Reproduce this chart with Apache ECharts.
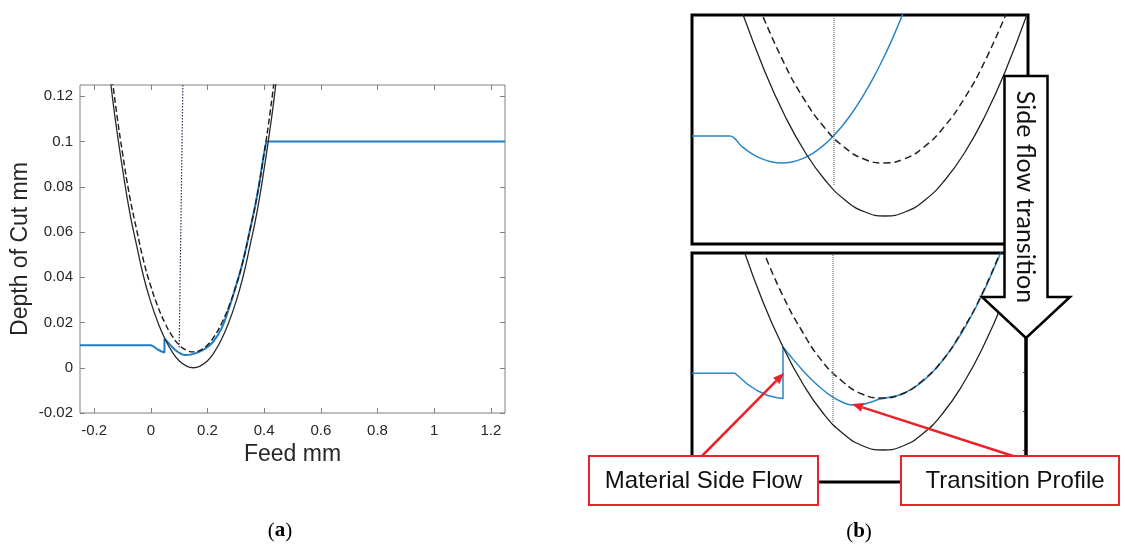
<!DOCTYPE html>
<html>
<head>
<meta charset="utf-8">
<script src="https://cdn.jsdelivr.net/npm/echarts@6/dist/echarts.min.js"></script>
<style>
html, body { margin: 0; padding: 0; background: #fff; }
#chart { width: 1125px; height: 545px; }
</style>
</head>
<body>
<div id="chart"></div>
<script>
// (a) feed / depth of cut, mm
var xTicks = [-0.2, 0, 0.2, 0.4, 0.6, 0.8, 1, 1.2]
var yTicks = [-0.02, 0, 0.02, 0.04, 0.06, 0.08, 0.1, 0.12]

// current tool profile (solid)
var toolX = [-0.145, -0.135, -0.12, -0.1, -0.075, -0.05, -0.025, 0, 0.025, 0.05, 0.075, 0.1, 0.125, 0.15, 0.175, 0.2, 0.225, 0.25, 0.275, 0.3, 0.325, 0.35, 0.375, 0.4, 0.42, 0.435, 0.445]
var toolY = [0.130, 0.119, 0.105, 0.088, 0.069, 0.054, 0.040, 0.029, 0.020, 0.0127, 0.0071, 0.0031, 0.0008, 0, 0.0008, 0.0031, 0.0071, 0.0127, 0.020, 0.029, 0.040, 0.054, 0.069, 0.088, 0.105, 0.119, 0.130]
// previous tool profile (dashed)
var prevX = [-0.14, -0.12, -0.1, -0.075, -0.05, -0.025, 0, 0.025, 0.05, 0.075, 0.1, 0.125, 0.15, 0.175, 0.2, 0.225, 0.25, 0.275, 0.3, 0.325, 0.35, 0.375, 0.4, 0.42, 0.44]
var prevY = [0.1315, 0.112, 0.095, 0.076, 0.061, 0.047, 0.036, 0.027, 0.0197, 0.0141, 0.0101, 0.0078, 0.007, 0.0078, 0.0101, 0.0141, 0.0197, 0.027, 0.036, 0.047, 0.061, 0.076, 0.095, 0.112, 0.1315]
// dotted marker
var markX = [0.1, 0.113]
var markY = [0.009, 0.125]
// surface (blue)
var sideX = [-0.25, 0, 0.012, 0.024, 0.036, 0.048, 0.048]
var sideY = [0.01, 0.01, 0.0092, 0.0081, 0.0073, 0.0067, 0.0128]
var profX = [0.048, 0.062, 0.075, 0.092, 0.105, 0.121, 0.14, 0.162, 0.19, 0.22, 0.25, 0.275, 0.3, 0.325, 0.35, 0.375, 0.4, 0.408]
var profY = [0.0128, 0.011, 0.0092, 0.0073, 0.0063, 0.0056, 0.0058, 0.0066, 0.0083, 0.0115, 0.0175, 0.026, 0.036, 0.047, 0.061, 0.076, 0.095, 0.1]
var flatX = [0.408, 1.25]
var flatY = [0.1, 0.1]

// (b) zoomed sketches, box-local units
var topToolX = [48, 73, 93, 113, 133, 153, 173, 193, 213, 233, 253, 273, 293, 313, 338]
var topToolY = [238, 172, 128, 92, 64, 44, 32, 28, 32, 44, 64, 92, 128, 172, 238]
var topPrevX = [67, 92, 112, 132, 152, 172, 192, 212, 232, 252, 272, 292, 317]
var topPrevY = [237, 181, 145, 117, 97, 85, 81, 85, 97, 117, 145, 181, 237]
var topSurfX = [0, 38, 50, 60, 70, 80, 90, 100, 110, 120, 130, 140, 150, 160, 170, 180, 190, 200, 212]
var topSurfY = [108, 108, 97.3, 90.2, 85.1, 82, 81, 82, 85.1, 90.2, 97.3, 106.5, 117.7, 131, 146.3, 163.6, 183, 204.4, 232.8]
var topMarkX = [142, 142]
var topMarkY = [59, 227]

var botToolX = [49, 71, 91, 111, 131, 151, 171, 191, 211, 231, 251, 271, 291, 311, 333]
var botToolY = [240, 180, 135, 98, 69, 48.5, 36, 32, 36, 48.5, 69, 98, 135, 180, 240]
var botPrevX = [70, 90, 110, 130, 150, 170, 190, 210, 230, 250, 270, 290, 310]
var botPrevY = [234, 188, 151, 121, 101, 88, 84, 88, 101, 121, 151, 188, 234]
var botSideX = [0, 43, 55, 65, 75, 85, 91, 91]
var botSideY = [108.7, 108.7, 98.2, 91.5, 86.8, 84.2, 83.5, 135]
var botProfX = [91, 100, 110, 120, 130, 140, 150, 160, 170, 180, 188, 196, 210, 230, 250, 270, 290, 310]
var botProfY = [135, 124, 112.5, 102, 93, 85.3, 80, 77, 77.5, 80.3, 83, 84.5, 88, 100.2, 120.8, 149.7, 187, 232.5]
var botMarkX = [141, 141]
var botMarkY = [60, 227]
var botTicks = [32, 71, 110]

function pairs (xs, ys) {
  return xs.map(function (x, i) { return [x, ys[i]] })
}

var BLUE = '#1f7dc6'
var RED = '#e8232b'
var sans = 'Liberation Sans'

function line (xi, data, color, width, type, smooth) {
  return {
    type: 'line', xAxisIndex: xi, yAxisIndex: xi, data: data,
    symbol: 'none', smooth: smooth || false, silent: true,
    lineStyle: { color: color, width: width, type: type || 'solid' }
  }
}

function hiddenAxis (grid, max) {
  return { type: 'value', gridIndex: grid, min: 0, max: max, show: false }
}

function redArrow (x1, y1, x2, y2) {
  var a = Math.atan2(y2 - y1, x2 - x1)
  var L = 11
  var W = 4.5
  var bx = x2 - L * Math.cos(a)
  var by = y2 - L * Math.sin(a)
  var px = -Math.sin(a) * W
  var py = Math.cos(a) * W
  return [
    { type: 'line', z: 100, shape: { x1: x1, y1: y1, x2: bx, y2: by }, style: { stroke: RED, lineWidth: 2.5 } },
    { type: 'polygon', z: 100, shape: { points: [[x2, y2], [bx + px, by + py], [bx - px, by - py]] }, style: { fill: RED } }
  ]
}

var fmt = function (v) { return String(Math.round(v * 1000) / 1000) }
var frame = '#808080'
var noLine = { show: false, onZero: false }

var myChart = echarts.init(document.getElementById('chart'))
var option = {
  animation: false,
  backgroundColor: '#fff',
  grid: [
    { left: 80, top: 85, width: 425, height: 328, show: true, borderColor: frame, borderWidth: 1 },
    { left: 692, top: 15, width: 336, height: 229, show: true, borderColor: '#000', borderWidth: 3 },
    { left: 692, top: 253, width: 334, height: 229, show: true, borderColor: '#000', borderWidth: 3 }
  ],
  xAxis: [
    {
      type: 'value', gridIndex: 0, min: -0.25, max: 1.25, position: 'bottom',
      name: 'Feed mm', nameLocation: 'middle', nameGap: 29,
      nameTextStyle: { fontFamily: sans, fontSize: 23, color: '#262626' },
      axisLine: noLine,
      axisTick: { inside: true, length: 5, customValues: xTicks, lineStyle: { color: frame } },
      axisLabel: { customValues: xTicks, formatter: fmt, fontFamily: sans, fontSize: 15, color: '#262626', margin: 10 },
      splitLine: { show: false }
    },
    {
      type: 'value', gridIndex: 0, min: -0.25, max: 1.25, position: 'top',
      axisLine: noLine,
      axisTick: { inside: true, length: 5, customValues: xTicks, lineStyle: { color: frame } },
      axisLabel: { show: false }, splitLine: { show: false }
    },
    hiddenAxis(1, 336),
    hiddenAxis(2, 334)
  ],
  yAxis: [
    {
      type: 'value', gridIndex: 0, min: -0.02, max: 0.125, position: 'left',
      name: 'Depth of Cut mm', nameLocation: 'middle', nameGap: 48,
      nameTextStyle: { fontFamily: sans, fontSize: 23, color: '#262626' },
      axisLine: noLine,
      axisTick: { inside: true, length: 5, customValues: yTicks, lineStyle: { color: frame } },
      axisLabel: { customValues: yTicks, formatter: fmt, fontFamily: sans, fontSize: 15, color: '#262626', margin: 7 },
      splitLine: { show: false }
    },
    {
      type: 'value', gridIndex: 0, min: -0.02, max: 0.125, position: 'right',
      axisLine: noLine,
      axisTick: { inside: true, length: 5, customValues: yTicks, lineStyle: { color: frame } },
      axisLabel: { show: false }, splitLine: { show: false }
    },
    hiddenAxis(1, 229),
    hiddenAxis(2, 229),
    {
      type: 'value', gridIndex: 2, min: 0, max: 229, position: 'right',
      axisLine: noLine,
      axisTick: { inside: true, length: 3, customValues: botTicks, lineStyle: { color: '#444' } },
      axisLabel: { show: false }, splitLine: { show: false }
    }
  ],
  series: [
    // (a)
    line(0, pairs(sideX, sideY), BLUE, 2),
    line(0, pairs(profX, profY), BLUE, 2, 'solid', 0.4),
    line(0, pairs(flatX, flatY), BLUE, 2),
    line(0, pairs(toolX, toolY), '#2a2a2a', 1.3, 'solid', true),
    line(0, pairs(prevX, prevY), '#1a1a1a', 1.4, [6, 3], true),
    line(0, pairs(markX, markY), '#2d3060', 1.2, [1.5, 1.5]),
    // (b) top box
    line(2, pairs(topSurfX, topSurfY), '#2a86c8', 1.5, 'solid', 0.35),
    line(2, pairs(topToolX, topToolY), '#222', 1.3, 'solid', true),
    line(2, pairs(topPrevX, topPrevY), '#222', 1.5, [7, 4], true),
    line(2, pairs(topMarkX, topMarkY), '#6a6a7a', 1.2, [1, 1]),
    // (b) bottom box
    line(3, pairs(botSideX, botSideY), '#2a86c8', 1.5),
    line(3, pairs(botProfX, botProfY), '#2a86c8', 1.5, 'solid', 0.4),
    line(3, pairs(botToolX, botToolY), '#222', 1.3, 'solid', true),
    line(3, pairs(botPrevX, botPrevY), '#222', 1.5, [7, 4], true),
    line(3, pairs(botMarkX, botMarkY), '#6a6a7a', 1.2, [1, 1])
  ],
  graphic: [
    {
      type: 'polygon', z: 100,
      shape: { points: [[1004.5, 76], [1047.5, 76], [1047.5, 297], [1070, 297], [1026, 338], [982, 297], [1004.5, 297]] },
      style: { fill: '#fff', stroke: '#000', lineWidth: 2.5 }
    },
    {
      type: 'line', z: 100,
      shape: { x1: 1026, y1: 338, x2: 1026, y2: 458 },
      style: { stroke: '#000', lineWidth: 3 }
    },
    {
      type: 'text', z: 101, x: 1025, y: 197, rotation: -Math.PI / 2,
      style: { text: 'Side flow transition', font: '25px Lato', fill: '#111', align: 'center', verticalAlign: 'middle' }
    }
  ].concat(redArrow(702, 456, 784, 373), redArrow(1013, 456, 852, 404), [
    {
      type: 'rect', z: 102, shape: { x: 589, y: 456, width: 229, height: 49 },
      style: { fill: '#fff', stroke: RED, lineWidth: 2 }
    },
    {
      type: 'text', z: 103, x: 703.5, y: 481.5,
      style: { text: 'Material Side Flow', font: '24px "Liberation Sans"', fill: '#111', align: 'center', verticalAlign: 'middle' }
    },
    {
      type: 'rect', z: 102, shape: { x: 901, y: 456, width: 218, height: 49 },
      style: { fill: '#fff', stroke: RED, lineWidth: 2 }
    },
    {
      type: 'text', z: 103, x: 1015, y: 481.5,
      style: { text: 'Transition Profile', font: '24px "Liberation Sans"', fill: '#111', align: 'center', verticalAlign: 'middle' }
    },
    {
      type: 'text', z: 103, x: 280, y: 531,
      style: {
        text: '({b|a})', font: '21px "Liberation Serif"', fill: '#000', align: 'center', verticalAlign: 'middle',
        rich: { b: { fontWeight: 'bold', fontSize: 21, fontFamily: 'Liberation Serif' } }
      }
    },
    {
      type: 'text', z: 103, x: 859, y: 532,
      style: {
        text: '({b|b})', font: '21px "Liberation Serif"', fill: '#000', align: 'center', verticalAlign: 'middle',
        rich: { b: { fontWeight: 'bold', fontSize: 21, fontFamily: 'Liberation Serif' } }
      }
    }
  ])
}
myChart.setOption(option)
</script>
</body>
</html>
